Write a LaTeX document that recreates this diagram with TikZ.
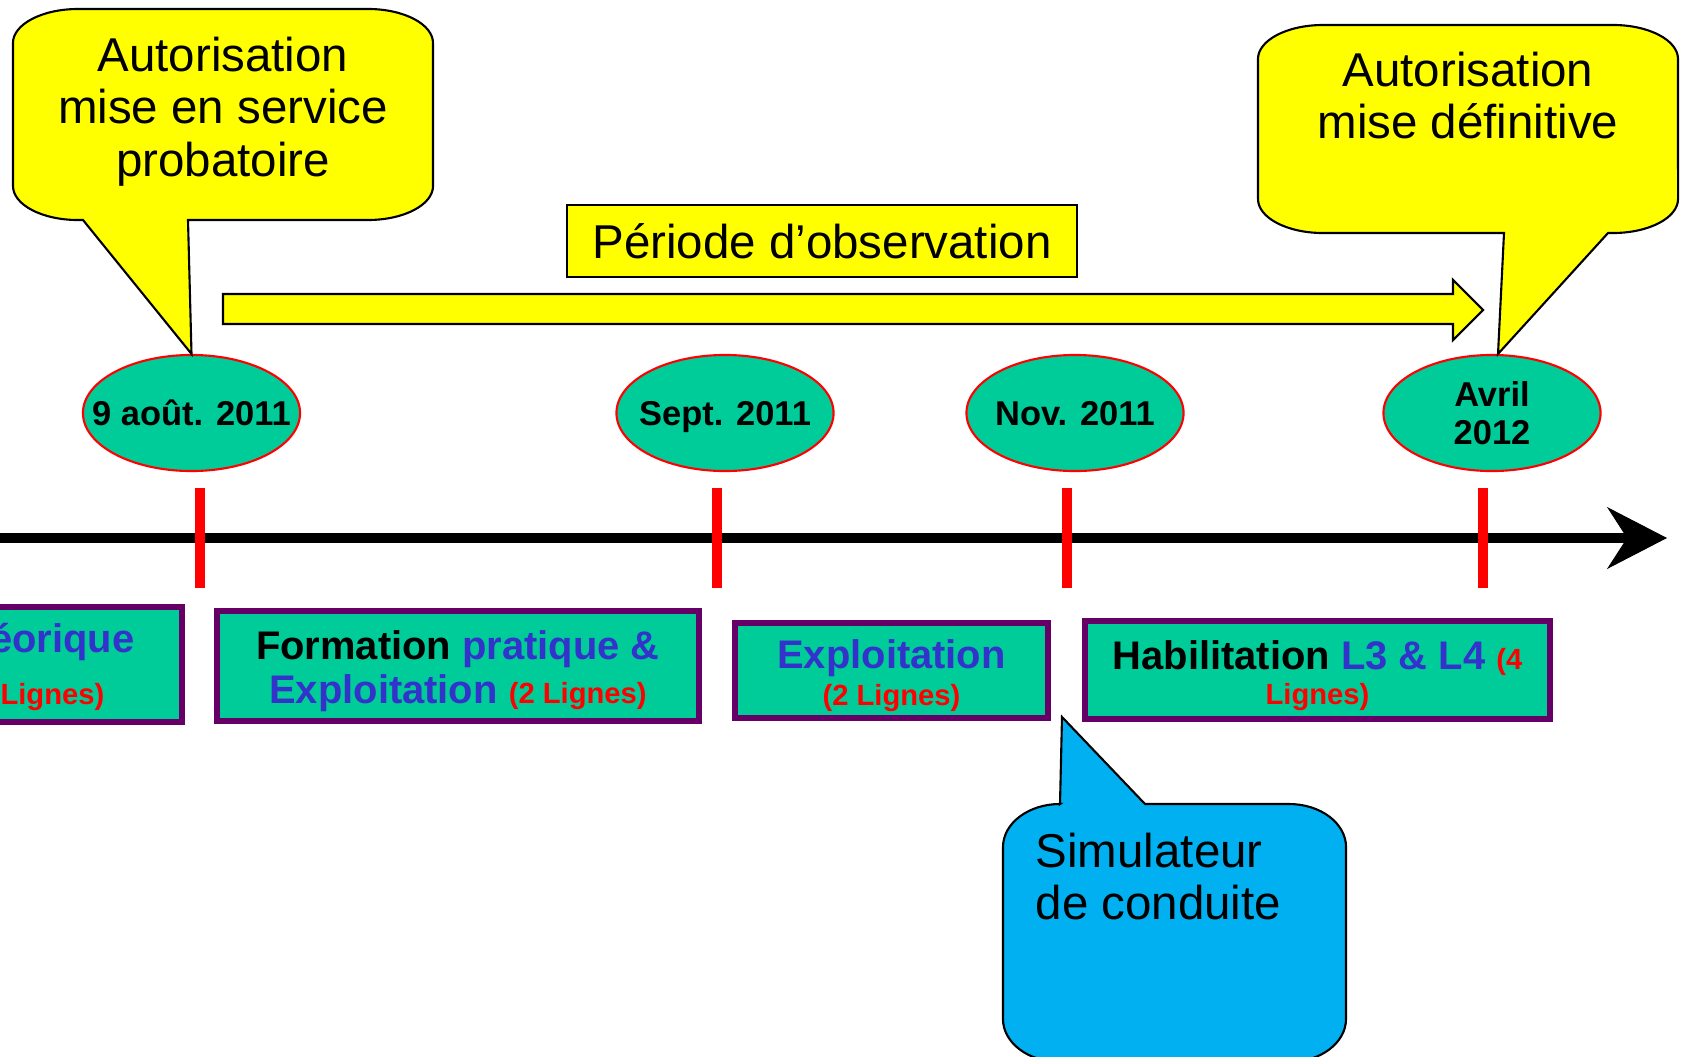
\documentclass[tikz,border=0pt]{standalone}
\usepackage{fontspec}
\setmainfont{Liberation Sans}
\usepackage{tikz}
\usetikzlibrary{arrows.meta, shapes.geometric}
\usepackage{xcolor}
\definecolor{callyellow}{HTML}{FFFF00}
\definecolor{dategreen}{HTML}{00CC99}
\definecolor{phasepurple}{HTML}{660066}
\definecolor{phaseblue}{HTML}{3333CC}
\definecolor{simblue}{HTML}{00B0F0}
\newcommand{\callfont}{\fontsize{13.5}{15}\selectfont}
\newcommand{\phasefont}{\bfseries\fontsize{11.35}{12.5}\selectfont}
\newcommand{\inblue}[1]{{\color{phaseblue}#1}}
\newcommand{\smallred}[1]{{\color{red}\fontsize{8.3}{10}\selectfont #1}}
\newcommand{\phasestrut}{\rule{0pt}{11.3pt}}

\begin{document}
\begin{tikzpicture}[x=0.01cm, y=0.01cm,
  callout/.style={draw=black, line width=0.6pt, line join=miter},
  calltext/.style={inner sep=0pt, font=\callfont},
  dateoval/.style={ellipse, draw=red, line width=0.6pt, fill=dategreen, minimum width=2.17cm, minimum height=1.16cm, inner sep=0pt},
  datetext/.style={font=\bfseries\fontsize{9.8}{10.8}\selectfont, align=center, text depth=0pt},
  phasebox/.style={draw=phasepurple, line width=1.85pt, fill=dategreen, inner sep=0pt, align=center, font=\phasefont},
  redtick/.style={draw=red, line width=3.1pt},
  timeline/.style={line width=3.1pt, -{Stealth[length=0.6cm, width=0.62cm, inset=0.2cm, line width=0.3pt]}}]
  \useasboundingbox (0,0) rectangle (1685,1056);
  \clip (0,0) rectangle (1685,1056);

  \coordinate (tstart) at (0,518);
  \coordinate (tend) at (1667,518);
  \draw[timeline] (tstart) -- (tend);
  \foreach \tx in {200,717,1067,1483}
    \draw[redtick] (\tx,468) -- (\tx,568);

  \node[dateoval, label={[datetext]center:9 août. 2011}] (aug) at (191.5,643) {};
  \node[dateoval, label={[datetext]center:Sept. 2011}] (sep) at (725,643) {};
  \node[dateoval, label={[datetext]center:Nov. 2011}] (nov) at (1075,643) {};
  \node[dateoval, label={[datetext]center:{Avril\\2012}}] (apr) at (1492,643) {};

  \draw[callout, fill=callyellow] (83,836) -- (aug.north) -- (188,836) -- (368,836)
    arc[start angle=270, end angle=360, x radius=0.65cm, y radius=0.34cm] -- (433,1013)
    arc[start angle=0, end angle=90, x radius=0.65cm, y radius=0.34cm] -- (78,1047)
    arc[start angle=90, end angle=180, x radius=0.65cm, y radius=0.34cm] -- (13,870)
    arc[start angle=180, end angle=270, x radius=0.65cm, y radius=0.34cm] -- cycle;
  \node[calltext, anchor=north, align=center] (probtext) at (223,1020) {Autorisation\\mise en service\\probatoire};

  \draw[callout, fill=callyellow] (1504,823) -- ([xshift=0.06cm]apr.north) -- (1608,823) -- (1613,823)
    arc[start angle=270, end angle=360, x radius=0.65cm, y radius=0.34cm] -- (1678,997)
    arc[start angle=0, end angle=90, x radius=0.65cm, y radius=0.34cm] -- (1323,1031)
    arc[start angle=90, end angle=180, x radius=0.65cm, y radius=0.34cm] -- (1258,857)
    arc[start angle=180, end angle=270, x radius=0.65cm, y radius=0.34cm] -- cycle;
  \node[calltext, anchor=north, align=center] (deftext) at (1468,1005) {Autorisation\\mise définitive};

  \draw[callout, fill=callyellow] (223,732) -- (1453,732) -- (1453,716) -- (1483,746)
    -- (1453,776) -- (1453,762) -- (223,762) -- cycle;
  \node[draw, line width=0.6pt, fill=callyellow, minimum width=5.09cm, minimum height=0.72cm,
    inner sep=0pt, font=\callfont] (obs) at (822,815) {Période d’observation};

  \node[phasebox, minimum width=4.285cm, minimum height=1.145cm] (theo) at (-32.5,391.5) {};
  \node[anchor=base east, inner sep=0pt, font=\phasefont] (theoa) at (135,404) {\inblue{éorique}};
  \node[anchor=base east, inner sep=0pt, font=\phasefont] (theob) at (105,352) {\smallred{Lignes)}};
  \node[phasebox, minimum width=4.815cm, minimum height=1.095cm] (prat) at (458,390)
    {\phasestrut Formation \inblue{pratique \&}\\\inblue{Exploitation} \smallred{(2 Lignes)}};
  \node[phasebox, minimum width=3.125cm, minimum height=0.945cm] (expl) at (891.5,385.5)
    {\phasestrut\inblue{Exploitation}\\[-2pt]\smallred{(2 Lignes)}};
  \node[phasebox, minimum width=4.645cm, minimum height=0.975cm] (habil) at (1317.5,386)
    {\phasestrut Habilitation \inblue{L3 \& L4} \smallred{(4}\\[-2.4pt]\smallred{Lignes)}};

  \coordinate (simtip) at (1062,339);
  \draw[callout, fill=simblue] (1060,252) -- (simtip) -- (1145,252) -- (1289,252)
    arc[start angle=90, end angle=0, x radius=0.57cm, y radius=0.43cm] -- (1346,37)
    arc[start angle=0, end angle=-90, x radius=0.57cm, y radius=0.43cm] -- (1060,-6)
    arc[start angle=270, end angle=180, x radius=0.57cm, y radius=0.43cm] -- (1003,209)
    arc[start angle=180, end angle=90, x radius=0.57cm, y radius=0.43cm] -- cycle;
  \node[calltext, anchor=north west, align=left] (simtext) at (1035,224) {Simulateur\\de conduite};
\end{tikzpicture}
\end{document}
